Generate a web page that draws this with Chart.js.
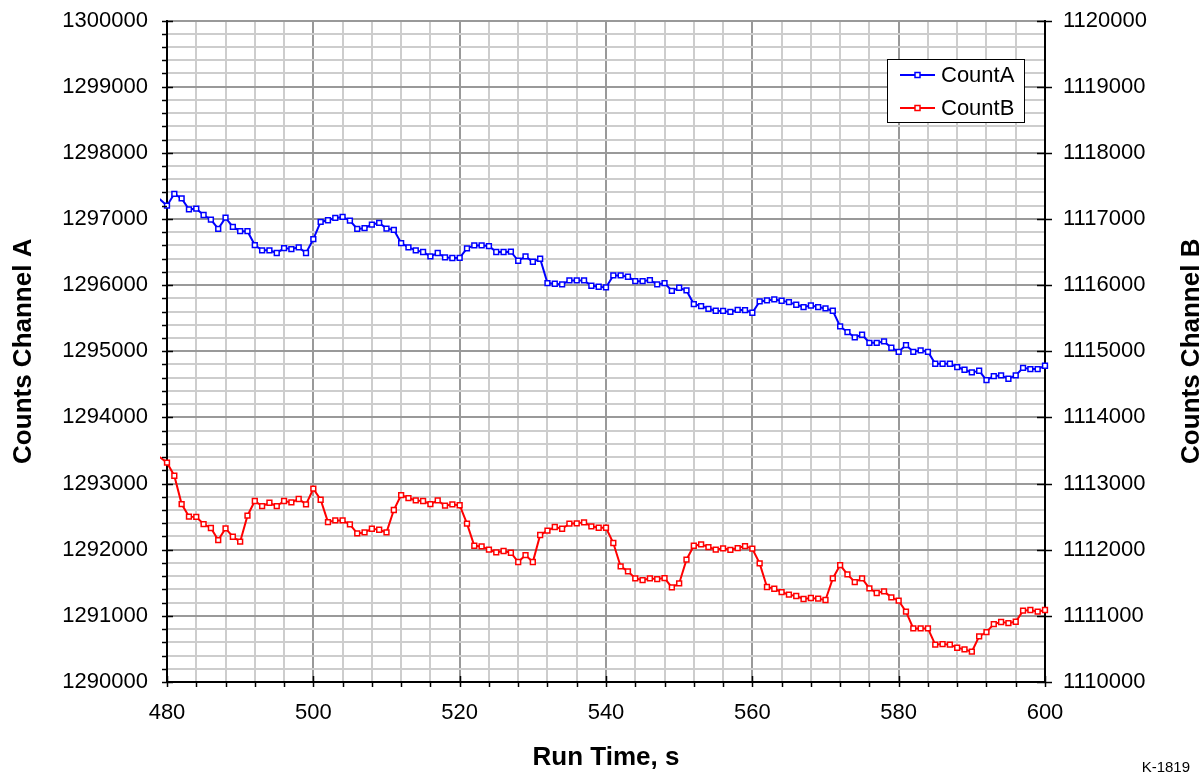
<!DOCTYPE html>
<html>
<head>
<meta charset="utf-8">
<script src="https://cdn.jsdelivr.net/npm/chart.js@4.4.1/dist/chart.umd.min.js"></script>
<style>
  html, body { margin: 0; padding: 0; background: #fff; }
  #wrap { width: 1199px; height: 779px; }
</style>
</head>
<body>
<div id="wrap"><canvas id="c" width="1199" height="779"></canvas></div>
<script>
// ---- Data ----
const runTime = [
  479,480,481,482,483,484,485,486,487,488,489,490,491,492,493,494,495,496,497,498,499,
  500,501,502,503,504,505,506,507,508,509,510,511,512,513,514,515,516,517,518,519,
  520,521,522,523,524,525,526,527,528,529,530,531,532,533,534,535,536,537,538,539,
  540,541,542,543,544,545,546,547,548,549,550,551,552,553,554,555,556,557,558,559,
  560,561,562,563,564,565,566,567,568,569,570,571,572,573,574,575,576,577,578,579,
  580,581,582,583,584,585,586,587,588,589,590,591,592,593,594,595,596,597,598,599,
  600,601
];
const countA = [
  1297300,1297200,1297380,1297310,1297145,1297155,1297060,1296990,1296850,1297020,1296880,1296815,1296815,1296605,1296525,1296525,1296485,1296560,1296545,1296570,1296485,
  1296695,1296955,1296980,1297015,1297030,1296975,1296850,1296860,1296915,1296940,1296855,1296835,1296635,1296570,1296525,1296500,1296435,1296485,1296420,1296410,
  1296412,1296555,1296600,1296600,1296590,1296500,1296500,1296505,1296368,1296433,1296353,1296398,1296030,1296020,1296010,1296070,1296070,1296070,1295990,1295975,
  1295965,1296146,1296146,1296126,1296060,1296060,1296076,1296010,1296030,1295914,1295960,1295919,1295713,1295683,1295642,1295612,1295610,1295595,1295625,1295622,
  1295582,1295753,1295768,1295783,1295763,1295743,1295703,1295668,1295692,1295668,1295647,1295612,1295375,1295290,1295209,1295249,1295128,1295128,1295148,1295053,
  1294992,1295093,1294992,1295012,1294992,1294811,1294811,1294811,1294761,1294720,1294680,1294705,1294564,1294625,1294634,1294584,1294634,1294750,1294731,1294731,
  1294781,1294860
];
const countB = [
  1113400,1113315,1113118,1112690,1112500,1112495,1112388,1112328,1112146,1112322,1112196,1112121,1112514,1112736,1112660,1112710,1112660,1112736,1112715,1112766,1112685,
  1112922,1112755,1112418,1112443,1112443,1112382,1112246,1112261,1112317,1112302,1112261,1112600,1112826,1112781,1112745,1112736,1112690,1112745,1112665,1112685,
  1112672,1112393,1112060,1112050,1112000,1111959,1111980,1111954,1111814,1111919,1111814,1112222,1112287,1112343,1112317,1112393,1112398,1112413,1112353,1112332,
  1112332,1112101,1111747,1111672,1111566,1111541,1111566,1111556,1111571,1111430,1111490,1111849,1112060,1112080,1112040,1112000,1112020,1111998,1112025,1112055,
  1112015,1111793,1111436,1111410,1111360,1111320,1111300,1111255,1111270,1111260,1111240,1111566,1111768,1111627,1111511,1111566,1111415,1111345,1111370,1111279,
  1111229,1111063,1110810,1110810,1110810,1110564,1110574,1110564,1110518,1110493,1110458,1110689,1110755,1110876,1110907,1110891,1110911,1111078,1111088,1111063,
  1111088,1111000
];
const seriesNames = ['CountA', 'CountB'];
const xRange = [480, 600];
const yRangeA = [1290000, 1300000];
const yRangeB = [1110000, 1120000];
const axisTitles = { x: 'Run Time, s', yA: 'Counts Channel A', yB: 'Counts Channel B' };
const figureId = 'K-1819';

// ---- Styles ----
const FONT = "'Liberation Sans', Arial, Helvetica, sans-serif";
const BLUE = '#0000ff', RED = '#ff0000';
const MINOR = '#cdcdcd', MAJOR = '#999999';
const CLEAR = 'rgba(0,0,0,0)';

const toPts = (vals) => runTime.map((t, i) => ({ x: t, y: vals[i] }));
const inRangeRadius = (ctx) => {
  const r = ctx.raw;
  return (r && r.x >= xRange[0] && r.x <= xRange[1]) ? 3.4 : 0;
};

const decorPlugin = {
  id: 'decor',
  afterDraw(chart) {
    const ctx = chart.ctx;
    const { x, y, y2 } = chart.scales;
    const area = chart.chartArea;
    ctx.save();
    ctx.strokeStyle = '#000';
    ctx.lineWidth = 1.5;
    // left axis ticks
    for (let v = yRangeA[0]; v <= yRangeA[1]; v += 200) {
      const py = Math.round(y.getPixelForValue(v)) + 0.5;
      const major = v % 1000 === 0;
      ctx.beginPath();
      ctx.moveTo(area.left - 5, py);
      ctx.lineTo(area.left + (major ? 6 : 0), py);
      ctx.stroke();
    }
    // right axis ticks
    for (let v = yRangeB[0]; v <= yRangeB[1]; v += 1000) {
      const py = Math.round(y2.getPixelForValue(v)) + 0.5;
      ctx.beginPath();
      ctx.moveTo(area.right - 8, py);
      ctx.lineTo(area.right + 7, py);
      ctx.stroke();
    }
    // x axis ticks
    for (let v = xRange[0]; v <= xRange[1]; v += 4) {
      const px = Math.round(x.getPixelForValue(v)) + 0.5;
      const major = v % 20 === 0;
      ctx.beginPath();
      ctx.moveTo(px, area.bottom + 5);
      ctx.lineTo(px, area.bottom - (major ? 6 : 0));
      ctx.stroke();
    }
    // legend box
    const lx = 887, ly = 59, lw = 137, lh = 63;
    ctx.fillStyle = '#fff';
    ctx.fillRect(lx, ly, lw, lh);
    ctx.lineWidth = 1;
    ctx.strokeStyle = '#000';
    ctx.strokeRect(lx + 0.5, ly + 0.5, lw, lh);
    const items = [
      { name: seriesNames[0], color: BLUE, yy: 75 },
      { name: seriesNames[1], color: RED, yy: 108 }
    ];
    items.forEach(it => {
      ctx.strokeStyle = it.color;
      ctx.lineWidth = 2;
      ctx.beginPath();
      ctx.moveTo(900, it.yy);
      ctx.lineTo(935, it.yy);
      ctx.stroke();
      ctx.fillStyle = '#fff';
      ctx.lineWidth = 1.5;
      ctx.fillRect(915, it.yy - 2.5, 5, 5);
      ctx.strokeRect(915, it.yy - 2.5, 5, 5);
      ctx.fillStyle = '#000';
      ctx.font = '22px ' + FONT;
      ctx.textAlign = 'left';
      ctx.textBaseline = 'middle';
      ctx.fillText(it.name, 941, it.yy + 1);
    });
    // right axis title (reads bottom-to-top)
    ctx.save();
    ctx.translate(1192, (area.top + area.bottom) / 2);
    ctx.rotate(-Math.PI / 2);
    ctx.fillStyle = '#000';
    ctx.font = 'bold 26px ' + FONT;
    ctx.textAlign = 'center';
    ctx.textBaseline = 'middle';
    ctx.fillText(axisTitles.yB, 0, 0);
    ctx.restore();
    // figure id
    ctx.fillStyle = '#000';
    ctx.font = '15px ' + FONT;
    ctx.textAlign = 'right';
    ctx.textBaseline = 'middle';
    ctx.fillText(figureId, 1190, 768);
    ctx.restore();
  }
};

new Chart(document.getElementById('c'), {
  type: 'line',
  data: {
    datasets: [
      {
        label: seriesNames[0], data: toPts(countA), yAxisID: 'y',
        borderColor: BLUE, borderWidth: 2, pointStyle: 'rect',
        pointRadius: inRangeRadius, pointBorderColor: BLUE, pointBackgroundColor: '#fff',
        pointBorderWidth: 1.5, tension: 0, clip: 7
      },
      {
        label: seriesNames[1], data: toPts(countB), yAxisID: 'y2',
        borderColor: RED, borderWidth: 2, pointStyle: 'rect',
        pointRadius: inRangeRadius, pointBorderColor: RED, pointBackgroundColor: '#fff',
        pointBorderWidth: 1.5, tension: 0, clip: 7
      }
    ]
  },
  options: {
    responsive: false,
    animation: false,
    devicePixelRatio: 1,
    layout: { padding: { top: 20.5, left: 0, right: 0, bottom: 0 } },
    plugins: { legend: { display: false }, tooltip: { enabled: false } },
    scales: {
      x: {
        type: 'linear', position: 'bottom', min: xRange[0], max: xRange[1],
        ticks: {
          stepSize: 4, autoSkip: false, maxRotation: 0, padding: 18,
          callback: v => (Math.round(v) % 20 === 0 ? String(Math.round(v)) : ''),
          font: { size: 22, family: FONT }, color: '#000'
        },
        grid: {
          drawTicks: false,
          color: c => (c.tick && Math.round(c.tick.value) % 20 === 0 ? MAJOR : MINOR),
          lineWidth: 2
        },
        border: { display: true, color: '#000', width: 2 },
        title: {
          display: true, text: axisTitles.x, color: '#000',
          font: { size: 26, weight: 'bold', family: FONT }, padding: { top: 0, bottom: 6 }
        },
        afterFit: s => { s.height = 97; }
      },
      y: {
        type: 'linear', position: 'left', min: yRangeA[0], max: yRangeA[1],
        ticks: {
          stepSize: 200, autoSkip: false, padding: 0,
          callback: v => (Math.round(v) % 1000 === 0 ? String(Math.round(v)) : ''),
          font: { size: 22, family: FONT }, color: '#000'
        },
        grid: {
          drawTicks: true, tickLength: 19, tickColor: CLEAR,
          color: c => (c.tick && Math.round(c.tick.value) % 1000 === 0 ? MAJOR : MINOR),
          lineWidth: 2
        },
        border: { display: true, color: '#000', width: 2 },
        title: {
          display: true, text: axisTitles.yA, color: '#000',
          font: { size: 26, weight: 'bold', family: FONT }, padding: { top: 8, bottom: 0 }
        },
        afterFit: s => { s.width = 167; }
      },
      y2: {
        type: 'linear', position: 'right', min: yRangeB[0], max: yRangeB[1],
        ticks: {
          stepSize: 1000, autoSkip: false, padding: 0,
          callback: v => String(Math.round(v)),
          font: { size: 22, family: FONT }, color: '#000'
        },
        grid: { drawOnChartArea: false, drawTicks: true, tickLength: 18, tickColor: CLEAR },
        border: { display: true, color: '#000', width: 2 },
        afterFit: s => { s.width = 154; }
      }
    }
  },
  plugins: [decorPlugin]
});
</script>
</body>
</html>
